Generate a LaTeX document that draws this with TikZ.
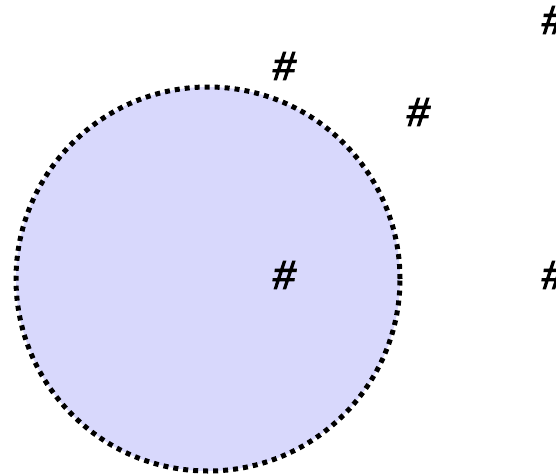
\documentclass[tikz,border=0pt]{standalone}
\usepackage{fontspec}
\setmainfont{Liberation Sans}
\newfontfamily\hashfont{Liberation Sans}[FakeBold=3,FakeSlant=0.12]
\definecolor{lav}{RGB}{216,216,252}
\begin{document}
\begin{tikzpicture}[x=1pt,y=-1pt,
  hashlbl/.style={inner sep=0pt,font=\hashfont\fontsize{40}{40}\selectfont},
  disc/.style={circle,fill=lav,draw=black,line width=5pt,dash pattern=on 5pt off 5pt,minimum size=384pt,inner sep=0pt}]
\useasboundingbox (0,0) rectangle (556,474);
\clip (0,0) rectangle (556,474);
\node[disc] (c) at (208,279) {};
\node[hashlbl] (h1) at (283,66) {\#};
\node[hashlbl] (h2) at (417,112) {\#};
\node[hashlbl] (h3) at (283,275) {\#};
\node[hashlbl] (h4) at (552,20) {\#};
\node[hashlbl] (h5) at (552,275) {\#};
\end{tikzpicture}
\end{document}
